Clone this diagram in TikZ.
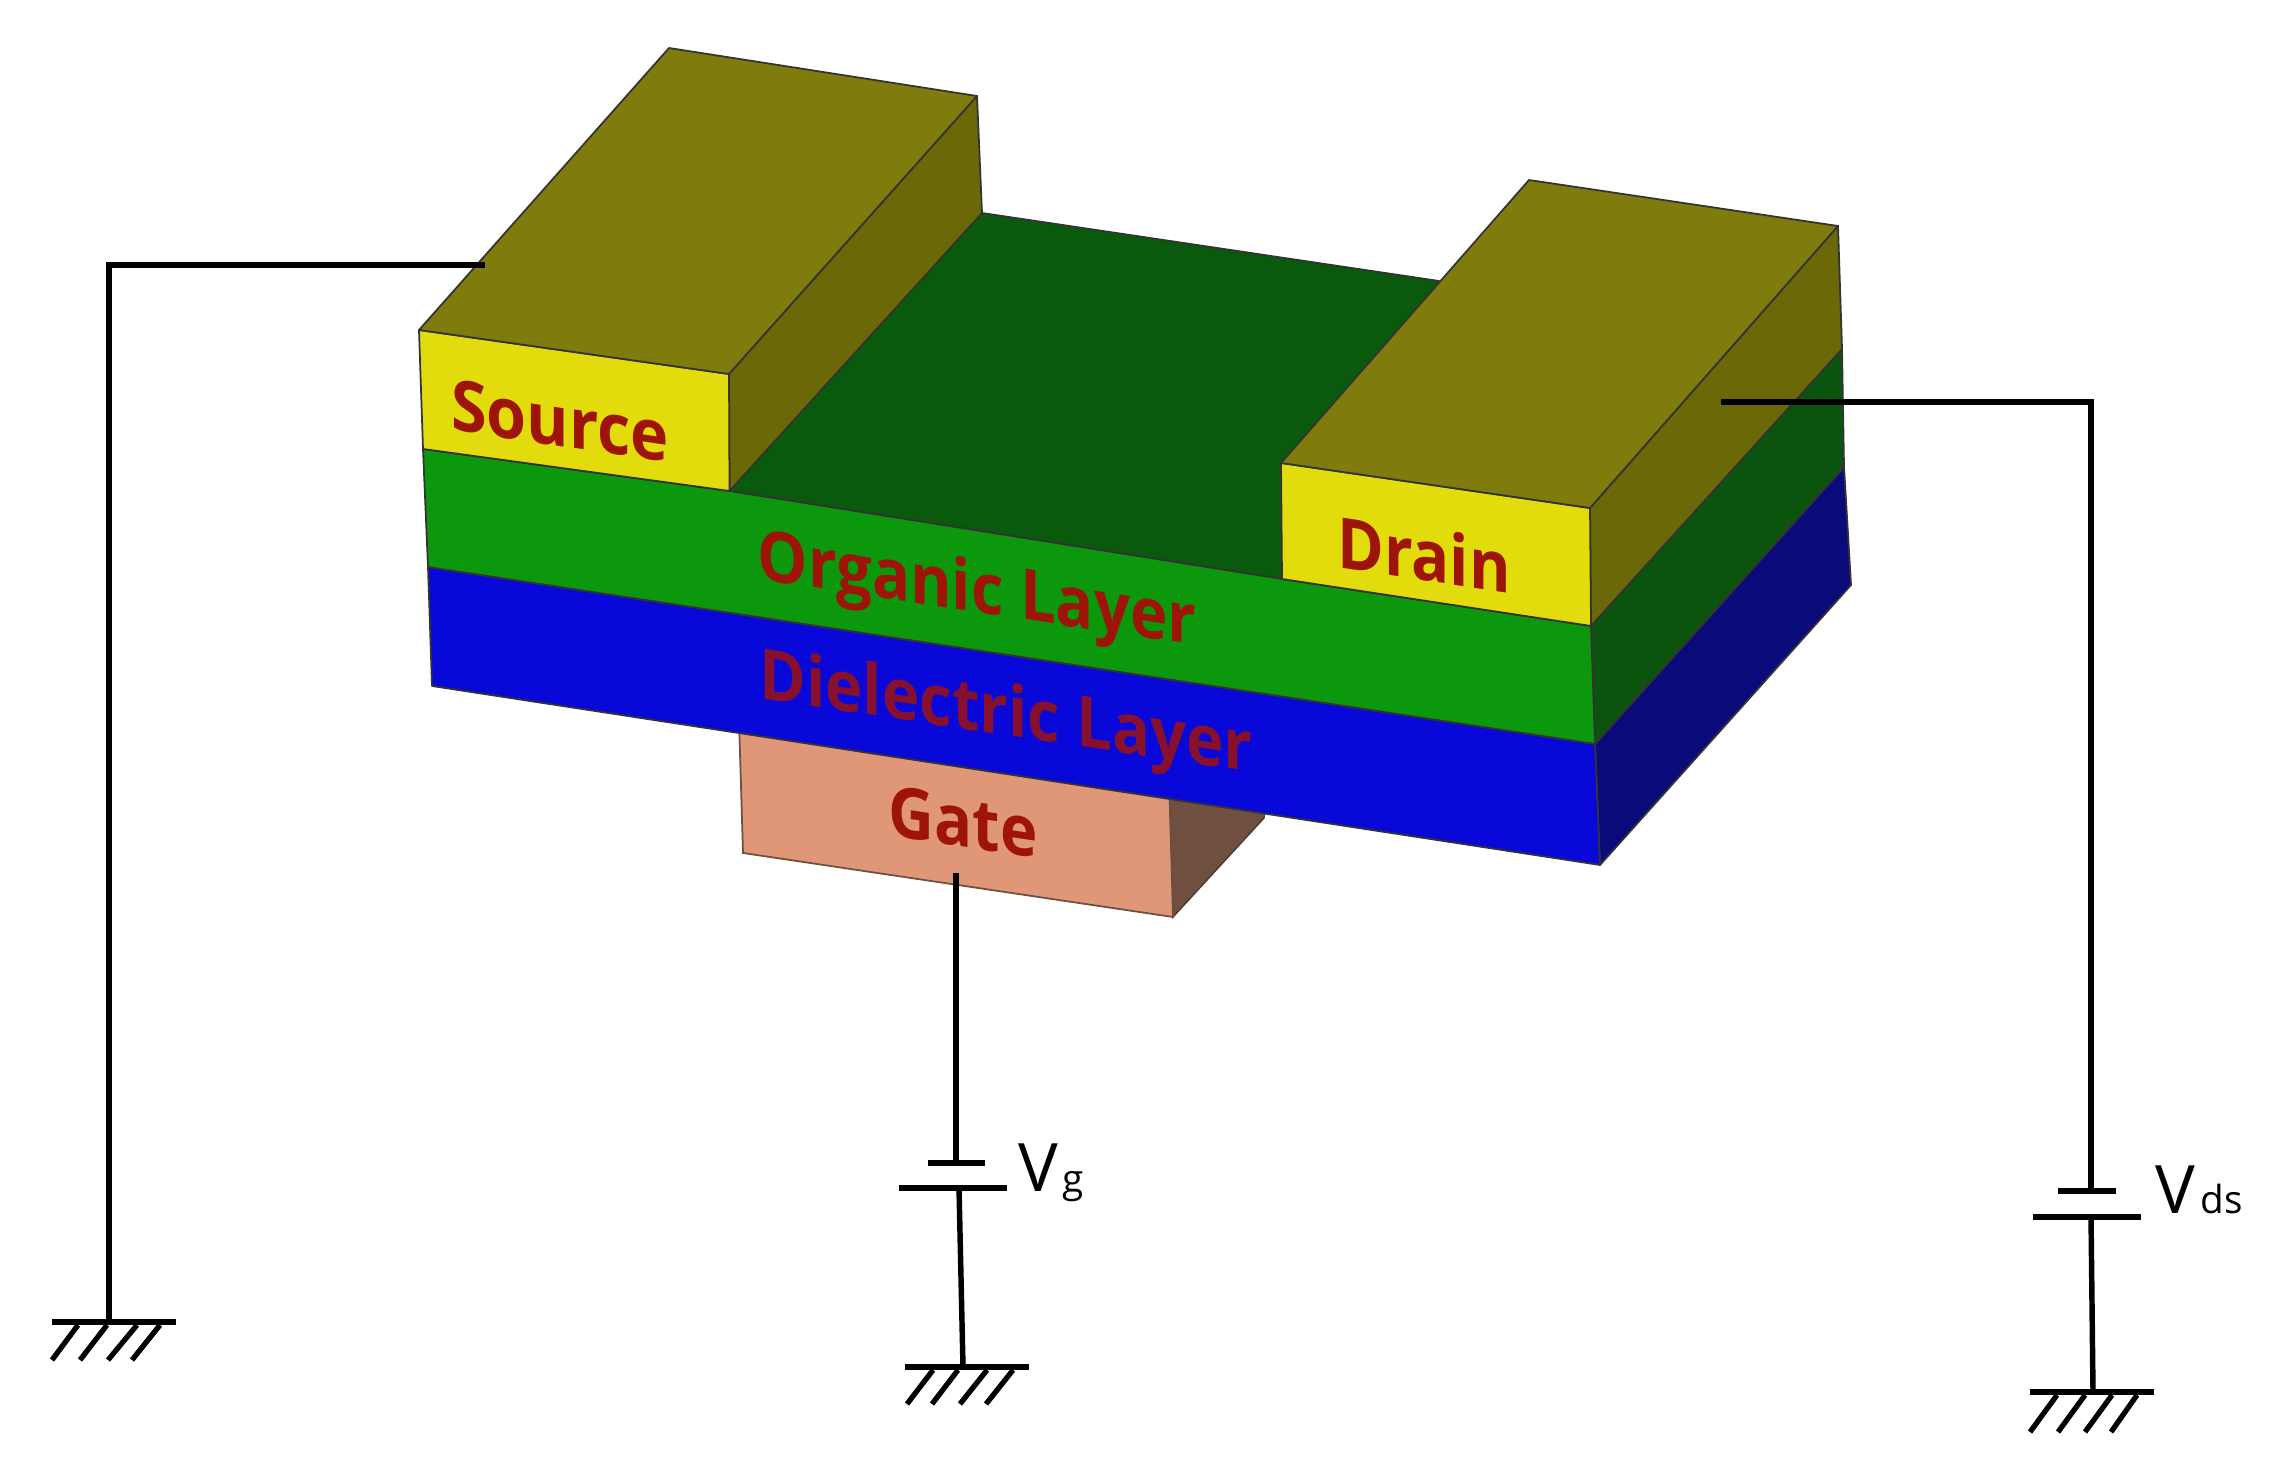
\documentclass[tikz,border=0pt]{standalone}
\usepackage{fontspec}
\setmainfont{Open Sans}
\definecolor{oliveTop}{HTML}{7F7B0C}
\definecolor{oliveSide}{HTML}{6B6808}
\definecolor{darkGreen}{HTML}{0A5A0E}
\definecolor{sideGreen}{HTML}{0B540D}
\definecolor{yellowFace}{HTML}{E3DC0C}
\definecolor{greenFace}{HTML}{0C980C}
\definecolor{blueFace}{HTML}{0808D8}
\definecolor{blueSide}{HTML}{0A0A7A}
\definecolor{gateFace}{HTML}{DF9778}
\definecolor{gateSide}{HTML}{6F5040}
\definecolor{labelRed}{HTML}{9E1408}
\definecolor{labelBlue}{HTML}{86102E}
\tikzset{
  edgeline/.style={draw=black!80,line width=0.5pt,line join=round},
  wire/.style={draw=black,line width=1.55pt,line cap=butt},
  hatchline/.style={draw=black,line width=1.5pt},
  platebar/.style={draw=black,line width=1.5pt},
  devlabel/.style={inner sep=0pt,text=labelRed,font=\bfseries\fontsize{20}{20}\selectfont,yslant=-0.15},
  volt/.style={inner sep=0pt,anchor=base west,font=\fontsize{19}{19}\selectfont},
  voltsub/.style={inner sep=0pt,anchor=base west,font=\fontsize{11}{11}\selectfont}
}
\begin{document}
\begin{tikzpicture}[x=0.01cm,y=-0.01cm]
\useasboundingbox (0,0) rectangle (2273,1473);
\fill[white] (0,0) rectangle (2273,1473);
% gate
\filldraw[fill=gateSide,draw=gateSide!70!black,line width=.4pt] (1169,780) -- (1266,795) -- (1264,818) -- (1173,917) -- cycle;
\filldraw[fill=gateFace,draw=gateSide,line width=.5pt] (739,720) -- (1169,780) -- (1173,917) -- (743,853) -- cycle;
% dielectric
\filldraw[fill=blueSide,edgeline] (1595,744) -- (1844,467) -- (1851,585) -- (1600,865) -- cycle;
\filldraw[fill=blueFace,edgeline] (428,567) -- (1595,744) -- (1600,865) -- (432,686) -- cycle;
% channel top
\filldraw[fill=darkGreen,edgeline] (729.5,491) -- (982,213) -- (1439,281) -- (1282,579) -- cycle;
% organic
\filldraw[fill=sideGreen,edgeline] (1591,626) -- (1842,349) -- (1844,467) -- (1595,744) -- cycle;
\filldraw[fill=greenFace,edgeline] (423,449) -- (729.5,491) -- (1282,579) -- (1591,626) -- (1595,744) -- (428,567) -- cycle;
% source
\filldraw[fill=oliveSide,edgeline] (729,374) -- (977,96) -- (982,213) -- (729.5,491) -- cycle;
\filldraw[fill=yellowFace,edgeline] (419,330) -- (729,374) -- (729.5,491) -- (423,449) -- cycle;
\filldraw[fill=oliveTop,edgeline] (669,48) -- (977,96) -- (729,374) -- (419,330) -- cycle;
% drain
\filldraw[fill=oliveSide,edgeline] (1590,508) -- (1838,226) -- (1842,349) -- (1591,626) -- cycle;
\filldraw[fill=yellowFace,edgeline] (1281,463) -- (1590,508) -- (1591,626) -- (1282,579) -- cycle;
\filldraw[fill=oliveTop,edgeline] (1529,180) -- (1838,226) -- (1590,508) -- (1281,463) -- cycle;
% labels
\node[devlabel,xscale=.92] (source) at (560,421) {Source};
\node[devlabel,xscale=.9] (drain) at (1424,554) {Drain};
\node[devlabel,xscale=.9] (organic) at (977,594) {Organic Layer};
\node[devlabel,xscale=.9,text=labelBlue] (dielectric) at (1006,717) {Dielectric Layer};
\node[devlabel,xscale=.9] (gate) at (963,822) {Gate};
% named terminals
\coordinate (sourceEnd) at (485,265);
\coordinate (sourceCorner) at (109,265);
\coordinate (sourceGnd) at (109,1322);
\coordinate (drainEnd) at (1721,402);
\coordinate (drainCorner) at (2091,402);
\coordinate (vdsTop) at (2091,1191);
\coordinate (vdsBot) at (2091,1217);
\coordinate (vdsGnd) at (2093,1392);
\coordinate (gateEnd) at (956,873);
\coordinate (vgTop) at (956,1163);
\coordinate (vgBot) at (959,1188);
\coordinate (vgGnd) at (963,1367);
% wires
\draw[wire] (sourceEnd) -- (sourceCorner) -- (sourceGnd);
\draw[wire] (drainEnd) -- (drainCorner) -- (vdsTop);
\draw[wire] (vdsBot) -- (vdsGnd);
\draw[wire] (gateEnd) -- (vgTop);
\draw[wire] (vgBot) -- (vgGnd);
% plates
\draw[platebar] (928,1163) -- (985,1163);
\draw[platebar] (899,1188) -- (1007,1188);
\draw[platebar] (2058,1191) -- (2116,1191);
\draw[platebar] (2033,1217) -- (2141,1217);
% grounds
\draw[platebar] (52,1322) -- (176,1322);
\foreach \a/\b in {78/52,107/80,137/108,160/132} \draw[hatchline] (\a,1325) -- (\b,1360);
\draw[platebar] (905,1367) -- (1029,1367);
\foreach \a/\b in {933/907,958/932,987/960,1013/986} \draw[hatchline] (\a,1370) -- (\b,1404);
\draw[platebar] (2030,1392) -- (2154,1392);
\foreach \a/\b in {2057/2030,2085/2058,2112/2085,2137/2111} \draw[hatchline] (\a,1395) -- (\b,1432);
% voltages
\node[volt] (vg) at (1018,1191) {V};
\node[voltsub] (vgs) at (1062,1192) {g};
\node[volt] (vds) at (2155,1213) {V};
\node[voltsub] (vdss) at (2200,1213) {ds};
\end{tikzpicture}
\end{document}
